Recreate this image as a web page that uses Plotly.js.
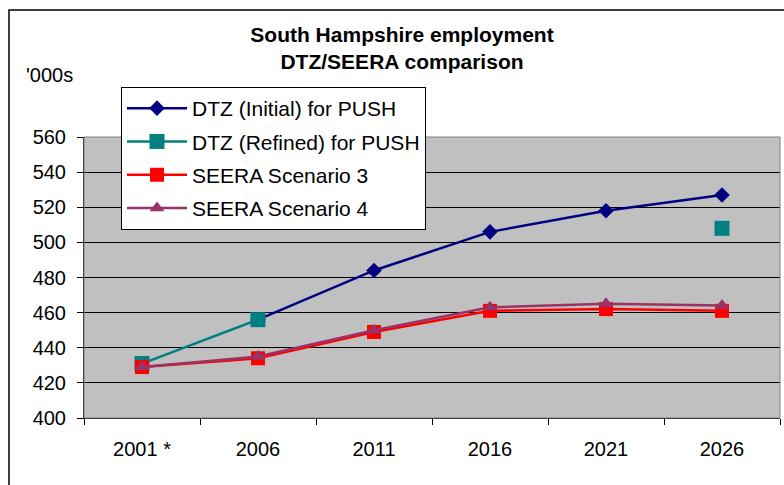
<!DOCTYPE html>
<html><head><meta charset="utf-8">
<script src="https://cdn.plot.ly/plotly-3.0.1.min.js"></script>
<style>html,body{margin:0;padding:0;background:#fff;}#chart{width:784px;height:485px;}</style>
</head><body><div id="chart"></div>
<script>
const categories = ["2001 *", "2006", "2011", "2016", "2021", "2026"];
const dtzInitial = [null, 456, 484, 506, 518, 527];
const dtzRefined = [431, 456, null, null, null, 508];
const seera3 = [429, 434, 449, 461, 462, 461];
const seera4 = [429, 435, 450, 463, 465, 464];
const yTicks = [400, 420, 440, 460, 480, 500, 520, 540, 560];

const F = "Liberation Sans, Arial, sans-serif";
const traces = [
  {name:"DTZ (Initial) for PUSH", y:dtzInitial, line:{color:"#000080",width:2.5}, marker:{symbol:"diamond",size:12,color:"#000080"}, legendgroup:"a"},
  {name:"DTZ (Refined) for PUSH", y:dtzRefined, line:{color:"#008080",width:2.5}, marker:{symbol:"square",size:15,color:"#008080"}, legendgroup:"b"},
  {name:"SEERA Scenario 3", y:seera3, line:{color:"#FF0000",width:2.5}, marker:{symbol:"square",size:14,color:"#FF0000"}, legendgroup:"c"},
  {name:"SEERA Scenario 4", y:seera4, line:{color:"#993366",width:2.5}, marker:{symbol:"triangle-up",size:13,color:"#993366"}, legendgroup:"d"}
].map(t => Object.assign({type:"scatter", mode:"lines+markers", x:categories, connectgaps:false}, t));

const PL = 84, PR = 780, PT = 137, PB = 418;
const PW = PR - PL, PH = PB - PT;
const layout = {
  width:784, height:485,
  margin:{l:PL, r:784-PR, t:PT, b:485-PB, autoexpand:false},
  paper_bgcolor:"#FFFFFF", plot_bgcolor:"#C0C0C0",
  font:{family:F, size:20, color:"#000"},
  showlegend:true,
  legend:{x:(121-PL)/PW, y:1+(PT-87)/PH, xanchor:"left", yanchor:"top",
    bgcolor:"#FFFFFF", bordercolor:"#000", borderwidth:1, font:{family:F,size:21,color:"#000"},
    traceorder:"grouped", tracegroupgap:3, itemwidth:60},
  xaxis:{type:"category", range:[-0.5,5.5], tickson:"boundaries", ticks:"outside", ticklen:6, tickcolor:"#000",
    showline:true, linecolor:"#000", linewidth:1, showgrid:false, ticklabelstandoff:13,
    tickfont:{family:F,size:20,color:"#000"}, fixedrange:true},
  yaxis:{range:[400,560], tickvals:yTicks, ticks:"outside", ticklen:6, tickcolor:"#000", ticklabelstandoff:7,
    showline:true, linecolor:"#000", linewidth:1, showgrid:true, gridcolor:"#000", gridwidth:1,
    zeroline:false, tickfont:{family:F,size:20,color:"#000"}, fixedrange:true},
  title:{text:"<b>South Hampshire employment<br>DTZ/SEERA comparison</b>", x:402/784, xref:"container", xanchor:"center",
    y:1-42/485, yref:"container", yanchor:"top", font:{family:F,size:21,color:"#000"}},
  annotations:[{text:"'000s", xref:"paper", yref:"paper", x:(24-PL)/PW, y:1+(PT-75)/PH, xanchor:"left", yanchor:"middle",
    showarrow:false, font:{family:F,size:20,color:"#000"}}],
  shapes:[
    {type:"rect", xref:"paper", yref:"paper", x0:0, x1:1, y0:0, y1:1, line:{color:"#808080",width:1}, layer:"above"},
    {type:"rect", xref:"paper", yref:"paper", x0:(9-PL)/PW, x1:(800-PL)/PW, y0:-(500-PB)/PH, y1:1+(PT-10)/PH, line:{color:"#000",width:1.5}}
  ]
};
Plotly.newPlot("chart", traces, layout, {staticPlot:true});
</script></body></html>
